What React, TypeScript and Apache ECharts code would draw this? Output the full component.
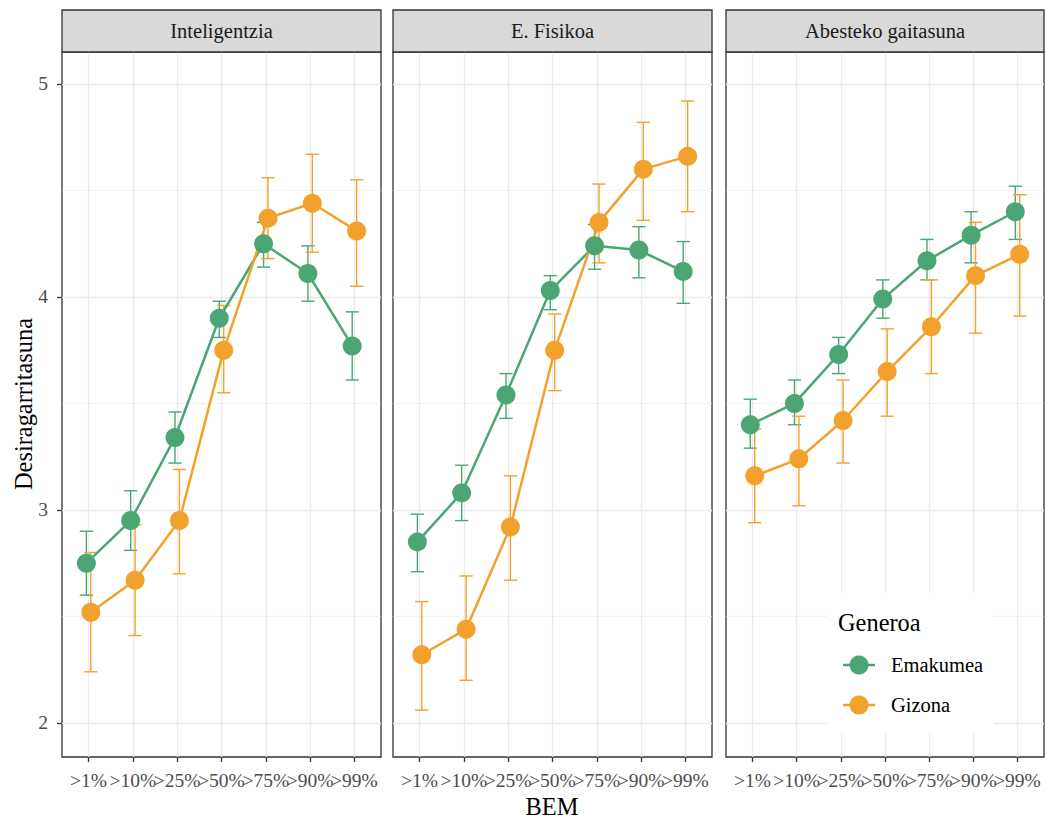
import React, { useEffect, useRef } from "react";
import * as echarts from "echarts";

const categories = [">1%", ">10%", ">25%", ">50%", ">75%", ">90%", ">99%"];
const panels = ["Inteligentzia", "E. Fisikoa", "Abesteko gaitasuna"];
const groups = ["Emakumea", "Gizona"];
const yMajor = [2, 3, 4, 5];
const yMinor = [2.5, 3.5, 4.5];

// Inteligentzia
const intelEmakumeaMean = [2.75, 2.95, 3.34, 3.9, 4.25, 4.11, 3.77];
const intelEmakumeaLow = [2.6, 2.81, 3.22, 3.81, 4.14, 3.98, 3.61];
const intelEmakumeaHigh = [2.9, 3.09, 3.46, 3.98, 4.35, 4.24, 3.93];
const intelGizonaMean = [2.52, 2.67, 2.95, 3.75, 4.37, 4.44, 4.31];
const intelGizonaLow = [2.24, 2.41, 2.7, 3.55, 4.18, 4.21, 4.05];
const intelGizonaHigh = [2.8, 2.93, 3.19, 3.96, 4.56, 4.67, 4.55];

// E. Fisikoa
const fisEmakumeaMean = [2.85, 3.08, 3.54, 4.03, 4.24, 4.22, 4.12];
const fisEmakumeaLow = [2.71, 2.95, 3.43, 3.94, 4.13, 4.09, 3.97];
const fisEmakumeaHigh = [2.98, 3.21, 3.64, 4.1, 4.34, 4.33, 4.26];
const fisGizonaMean = [2.32, 2.44, 2.92, 3.75, 4.35, 4.6, 4.66];
const fisGizonaLow = [2.06, 2.2, 2.67, 3.56, 4.16, 4.36, 4.4];
const fisGizonaHigh = [2.57, 2.69, 3.16, 3.92, 4.53, 4.82, 4.92];

// Abesteko gaitasuna
const abEmakumeaMean = [3.4, 3.5, 3.73, 3.99, 4.17, 4.29, 4.4];
const abEmakumeaLow = [3.29, 3.4, 3.64, 3.9, 4.08, 4.16, 4.27];
const abEmakumeaHigh = [3.52, 3.61, 3.81, 4.08, 4.27, 4.4, 4.52];
const abGizonaMean = [3.16, 3.24, 3.42, 3.65, 3.86, 4.1, 4.2];
const abGizonaLow = [2.94, 3.02, 3.22, 3.44, 3.64, 3.83, 3.91];
const abGizonaHigh = [3.38, 3.44, 3.61, 3.85, 4.08, 4.35, 4.48];

const panelData = [
  [
    [intelEmakumeaMean, intelEmakumeaLow, intelEmakumeaHigh],
    [intelGizonaMean, intelGizonaLow, intelGizonaHigh],
  ],
  [
    [fisEmakumeaMean, fisEmakumeaLow, fisEmakumeaHigh],
    [fisGizonaMean, fisGizonaLow, fisGizonaHigh],
  ],
  [
    [abEmakumeaMean, abEmakumeaLow, abEmakumeaHigh],
    [abGizonaMean, abGizonaLow, abGizonaHigh],
  ],
];

const COLORS = ["#4BA674", "#F2A22C"];
const DODGE = [-0.05, 0.05];
const FONT = "Liberation Serif";
const TICK_FS = 19.5;
const STRIP_FS = 20.5;
const TITLE_FS = 24.4;

export default function App() {
  const ref = useRef<HTMLDivElement>(null);
  useEffect(() => {
    document.body.style.margin = "0";
    if (!ref.current) return;
    const chart = echarts.init(ref.current, null, { renderer: "svg" });

    const gridBoxes = [
      { left: 62, width: 319 },
      { left: 393, width: 319 },
      { left: 726, width: 318 },
    ];
    const top = 52;
    const height = 705;
    const xTicks = categories.map((_, i) => i + 1);

    const grids = gridBoxes.map((g) => ({
      left: g.left,
      top,
      width: g.width,
      height,
      show: true,
      borderColor: "#333333",
      borderWidth: 1.3,
      backgroundColor: "transparent",
      containLabel: false,
    }));

    const xAxes = gridBoxes.map((_, i) => ({
      type: "value",
      gridIndex: i,
      min: 0.4,
      max: 7.6,
      axisLine: { show: false },
      axisTick: {
        show: true,
        customValues: xTicks,
        length: 5,
        lineStyle: { color: "#333333", width: 1.3 },
      },
      axisLabel: { show: false, customValues: xTicks },
      splitLine: { show: true, lineStyle: { color: "#ebebeb", width: 1.3 } },
    }));

    const yAxes = gridBoxes.map((_, i) => ({
      type: "value",
      gridIndex: i,
      min: 1.84,
      max: 5.15,
      axisLine: { show: false },
      axisTick: {
        show: i === 0,
        customValues: yMajor,
        length: 5,
        lineStyle: { color: "#333333", width: 1.3 },
      },
      axisLabel: { show: false, customValues: yMajor },
      splitLine: { show: true, lineStyle: { color: "#ebebeb", width: 1.3 } },
    }));

    const series: any[] = [];
    panels.forEach((_, p) => {
      // minor gridlines
      series.push({
        type: "custom",
        xAxisIndex: p,
        yAxisIndex: p,
        silent: true,
        z: 1,
        data: yMinor.map((v) => [1, v]),
        encode: { x: 0, y: 1 },
        renderItem: (params: any, api: any) => {
          const cs = params.coordSys;
          const pt = api.coord([1, api.value(1)]);
          return {
            type: "line",
            shape: { x1: cs.x, y1: pt[1], x2: cs.x + cs.width, y2: pt[1] },
            style: { stroke: "#ebebeb", lineWidth: 0.65 },
          };
        },
      });
      // x tick labels
      series.push({
        type: "custom",
        xAxisIndex: p,
        yAxisIndex: p,
        silent: true,
        clip: false,
        z: 5,
        data: categories.map((c, i) => [i + 1, 1.84, c]),
        encode: { x: 0, y: 1 },
        renderItem: (params: any, api: any) => {
          const cs = params.coordSys;
          const pt = api.coord([api.value(0), 2]);
          return {
            type: "text",
            x: pt[0],
            y: cs.y + cs.height + 23,
            style: {
              text: categories[params.dataIndex],
              fill: "#4d4d4d",
              fontSize: TICK_FS,
              fontFamily: FONT,
              align: "center",
              verticalAlign: "middle",
            },
          };
        },
      });
    });

    // y tick labels (first panel only)
    series.push({
      type: "custom",
      xAxisIndex: 0,
      yAxisIndex: 0,
      silent: true,
      clip: false,
      z: 5,
      data: yMajor.map((v) => [1, v]),
      encode: { x: 0, y: 1 },
      renderItem: (params: any, api: any) => {
        const cs = params.coordSys;
        const pt = api.coord([1, api.value(1)]);
        return {
          type: "text",
          x: cs.x - 14,
          y: pt[1],
          style: {
            text: String(yMajor[params.dataIndex]),
            fill: "#4d4d4d",
            fontSize: TICK_FS,
            fontFamily: FONT,
            align: "right",
            verticalAlign: "middle",
          },
        };
      },
    });

    // error bars
    panels.forEach((_, p) => {
      groups.forEach((name, g) => {
        const [, low, high] = panelData[p][g];
        const color = COLORS[g];
        series.push({
          type: "custom",
          name,
          xAxisIndex: p,
          yAxisIndex: p,
          z: 2,
          silent: true,
          data: categories.map((_, i) => [i + 1 + DODGE[g], low[i], high[i]]),
          encode: { x: 0, y: [1, 2] },
          renderItem: (params: any, api: any) => {
            const x = api.value(0);
            const pLo = api.coord([x, api.value(1)]);
            const pHi = api.coord([x, api.value(2)]);
            const hw = api.size([0.3, 0])[0] / 2;
            const style = { stroke: color, lineWidth: 1.4 };
            return {
              type: "group",
              children: [
                { type: "line", shape: { x1: pHi[0], y1: pHi[1], x2: pLo[0], y2: pLo[1] }, style },
                { type: "line", shape: { x1: pHi[0] - hw, y1: pHi[1], x2: pHi[0] + hw, y2: pHi[1] }, style },
                { type: "line", shape: { x1: pLo[0] - hw, y1: pLo[1], x2: pLo[0] + hw, y2: pLo[1] }, style },
              ],
            };
          },
        });
      });
    });

    // lines
    panels.forEach((_, p) => {
      groups.forEach((name, g) => {
        const [mean] = panelData[p][g];
        series.push({
          type: "line",
          name,
          xAxisIndex: p,
          yAxisIndex: p,
          z: 3,
          silent: true,
          showSymbol: false,
          symbol: "none",
          lineStyle: { color: COLORS[g], width: 2.5 },
          data: categories.map((_, i) => [i + 1 + DODGE[g], mean[i]]),
        });
      });
    });

    // points
    panels.forEach((_, p) => {
      groups.forEach((name, g) => {
        const [mean] = panelData[p][g];
        series.push({
          type: "scatter",
          name,
          xAxisIndex: p,
          yAxisIndex: p,
          z: 4,
          silent: true,
          symbol: "circle",
          symbolSize: 19,
          itemStyle: { color: COLORS[g], opacity: 1 },
          data: categories.map((_, i) => [i + 1 + DODGE[g], mean[i]]),
        });
      });
    });

    const graphic: any[] = [];
    gridBoxes.forEach((g, p) => {
      graphic.push({
        type: "rect",
        shape: { x: g.left, y: 10, width: g.width, height: 42 },
        style: { fill: "#d9d9d9", stroke: "#333333", lineWidth: 1.3 },
        z: 5,
      });
      graphic.push({
        type: "text",
        x: g.left + g.width / 2,
        y: 31,
        style: {
          text: panels[p],
          fill: "#1a1a1a",
          fontSize: STRIP_FS,
          fontFamily: FONT,
          textAlign: "center",
          textVerticalAlign: "middle",
        },
        z: 6,
      });
    });
    // axis titles
    graphic.push({
      type: "text",
      x: 23,
      y: 404,
      rotation: Math.PI / 2,
      style: {
        text: "Desiragarritasuna",
        fill: "#000000",
        fontSize: TITLE_FS,
        fontFamily: FONT,
        textAlign: "center",
        textVerticalAlign: "middle",
      },
    });
    graphic.push({
      type: "text",
      x: 552,
      y: 806,
      style: {
        text: "BEM",
        fill: "#000000",
        fontSize: TITLE_FS,
        fontFamily: FONT,
        textAlign: "center",
        textVerticalAlign: "middle",
      },
    });
    // legend
    graphic.push({
      type: "rect",
      shape: { x: 827, y: 593, width: 167, height: 140 },
      style: { fill: "#ffffff" },
      z: 10,
    });
    graphic.push({
      type: "text",
      x: 838,
      y: 622,
      style: {
        text: "Generoa",
        fill: "#000000",
        fontSize: TITLE_FS,
        fontFamily: FONT,
        textAlign: "left",
        textVerticalAlign: "middle",
      },
      z: 11,
    });
    groups.forEach((name, g) => {
      const cy = 665 + g * 40;
      graphic.push({
        type: "line",
        shape: { x1: 843, y1: cy, x2: 875, y2: cy },
        style: { stroke: COLORS[g], lineWidth: 2.5 },
        z: 11,
      });
      graphic.push({
        type: "circle",
        shape: { cx: 859, cy, r: 9.5 },
        style: { fill: COLORS[g] },
        z: 11,
      });
      graphic.push({
        type: "text",
        x: 891,
        y: cy,
        style: {
          text: name,
          fill: "#000000",
          fontSize: STRIP_FS,
          fontFamily: FONT,
          textAlign: "left",
          textVerticalAlign: "middle",
        },
        z: 11,
      });
    });

    chart.setOption({
      animation: false,
      backgroundColor: "#ffffff",
      textStyle: { fontFamily: FONT },
      grid: grids,
      xAxis: xAxes,
      yAxis: yAxes,
      series,
      graphic,
    });
    return () => chart.dispose();
  }, []);
  return <div ref={ref} style={{ width: 1047, height: 820 }} />;
}
